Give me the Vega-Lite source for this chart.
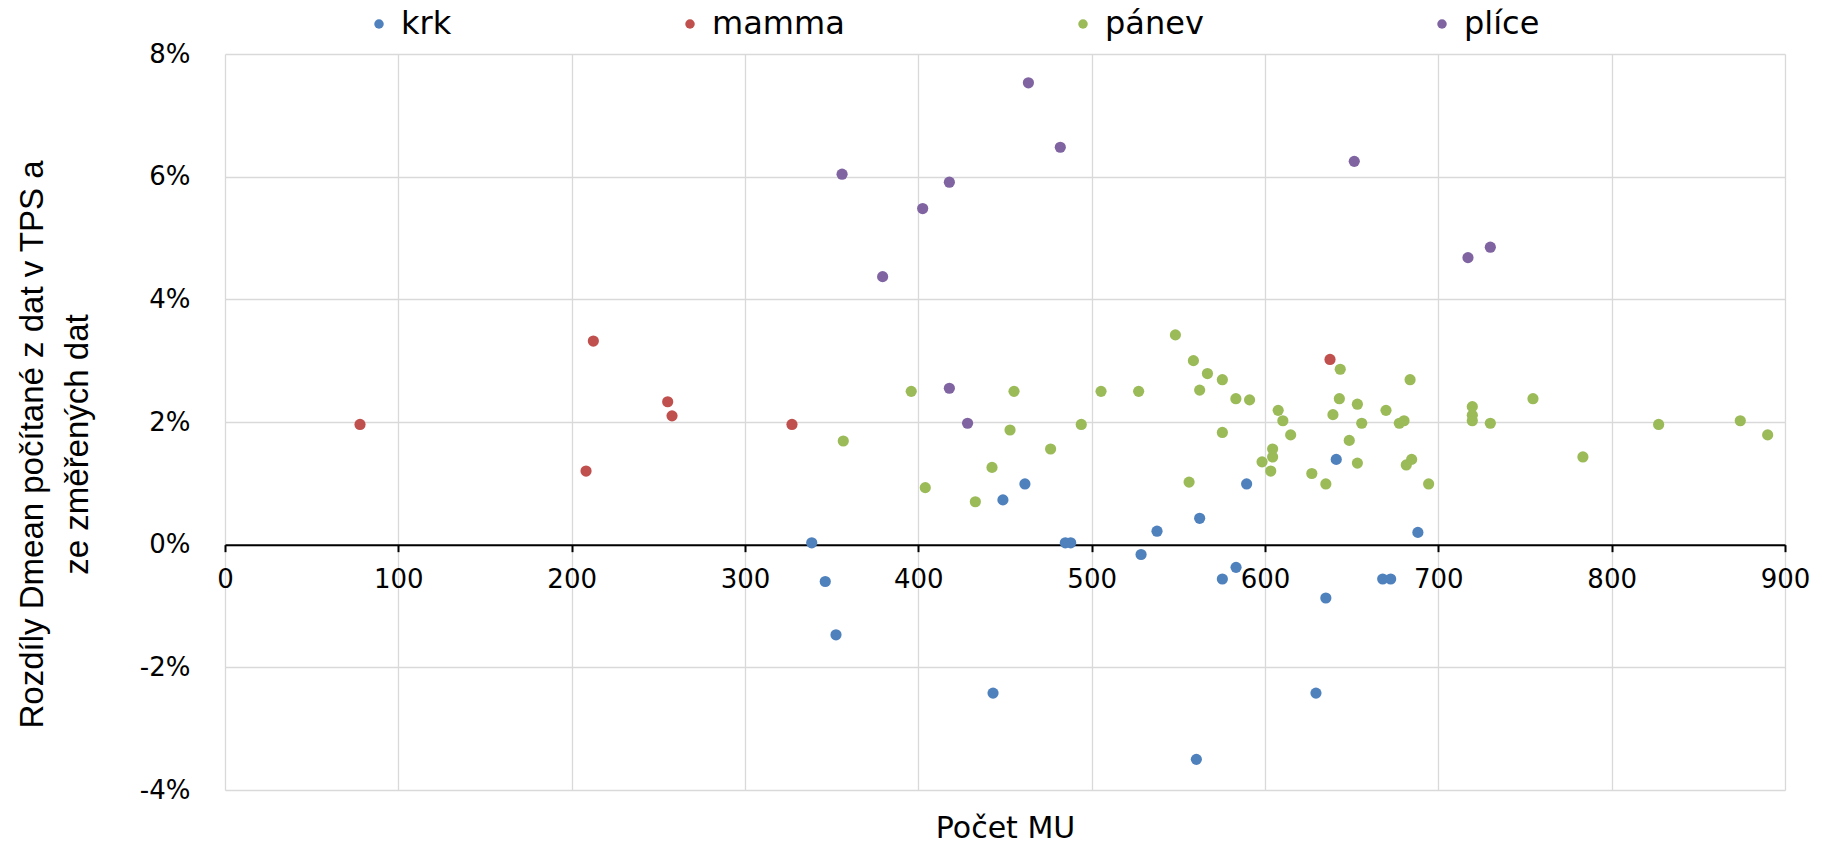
{
  "$schema": "https://vega.github.io/schema/vega-lite/v6.json",
  "width": 1560,
  "height": 736,
  "autosize": "none",
  "padding": {"left": 225, "top": 54, "right": 44, "bottom": 59},
  "background": "white",
  "config": {
    "view": {"stroke": null},
    "axis": {"gridColor": "#d9d9d9", "gridWidth": 1.3}
  },
  "data": {
    "values": [
      {"MU": 338.5, "rozdil": 0.03, "lokalita": "krk"},
      {"MU": 346.3, "rozdil": -0.6, "lokalita": "krk"},
      {"MU": 352.5, "rozdil": -1.47, "lokalita": "krk"},
      {"MU": 443.1, "rozdil": -2.42, "lokalita": "krk"},
      {"MU": 448.8, "rozdil": 0.73, "lokalita": "krk"},
      {"MU": 461.5, "rozdil": 0.99, "lokalita": "krk"},
      {"MU": 484.8, "rozdil": 0.03, "lokalita": "krk"},
      {"MU": 487.9, "rozdil": 0.03, "lokalita": "krk"},
      {"MU": 528.5, "rozdil": -0.16, "lokalita": "krk"},
      {"MU": 537.7, "rozdil": 0.22, "lokalita": "krk"},
      {"MU": 562.3, "rozdil": 0.43, "lokalita": "krk"},
      {"MU": 589.4, "rozdil": 0.99, "lokalita": "krk"},
      {"MU": 583.3, "rozdil": -0.37, "lokalita": "krk"},
      {"MU": 575.4, "rozdil": -0.56, "lokalita": "krk"},
      {"MU": 560.4, "rozdil": -3.5, "lokalita": "krk"},
      {"MU": 641.1, "rozdil": 1.39, "lokalita": "krk"},
      {"MU": 635.1, "rozdil": -0.87, "lokalita": "krk"},
      {"MU": 629.4, "rozdil": -2.42, "lokalita": "krk"},
      {"MU": 667.9, "rozdil": -0.56, "lokalita": "krk"},
      {"MU": 672.5, "rozdil": -0.56, "lokalita": "krk"},
      {"MU": 688.2, "rozdil": 0.2, "lokalita": "krk"},

      {"MU": 77.9, "rozdil": 1.96, "lokalita": "mamma"},
      {"MU": 208.3, "rozdil": 1.2, "lokalita": "mamma"},
      {"MU": 212.5, "rozdil": 3.32, "lokalita": "mamma"},
      {"MU": 255.4, "rozdil": 2.33, "lokalita": "mamma"},
      {"MU": 257.9, "rozdil": 2.1, "lokalita": "mamma"},
      {"MU": 327.1, "rozdil": 1.96, "lokalita": "mamma"},
      {"MU": 637.5, "rozdil": 3.02, "lokalita": "mamma"},

      {"MU": 356.7, "rozdil": 1.69, "lokalita": "pánev"},
      {"MU": 395.9, "rozdil": 2.5, "lokalita": "pánev"},
      {"MU": 404.0, "rozdil": 0.93, "lokalita": "pánev"},
      {"MU": 432.9, "rozdil": 0.7, "lokalita": "pánev"},
      {"MU": 442.5, "rozdil": 1.26, "lokalita": "pánev"},
      {"MU": 452.9, "rozdil": 1.87, "lokalita": "pánev"},
      {"MU": 455.2, "rozdil": 2.5, "lokalita": "pánev"},
      {"MU": 476.3, "rozdil": 1.56, "lokalita": "pánev"},
      {"MU": 494.0, "rozdil": 1.96, "lokalita": "pánev"},
      {"MU": 505.4, "rozdil": 2.5, "lokalita": "pánev"},
      {"MU": 527.1, "rozdil": 2.5, "lokalita": "pánev"},
      {"MU": 548.3, "rozdil": 3.42, "lokalita": "pánev"},
      {"MU": 556.2, "rozdil": 1.02, "lokalita": "pánev"},
      {"MU": 558.7, "rozdil": 3.0, "lokalita": "pánev"},
      {"MU": 562.3, "rozdil": 2.52, "lokalita": "pánev"},
      {"MU": 566.8, "rozdil": 2.79, "lokalita": "pánev"},
      {"MU": 575.4, "rozdil": 2.69, "lokalita": "pánev"},
      {"MU": 575.4, "rozdil": 1.83, "lokalita": "pánev"},
      {"MU": 583.2, "rozdil": 2.38, "lokalita": "pánev"},
      {"MU": 591.1, "rozdil": 2.36, "lokalita": "pánev"},
      {"MU": 598.3, "rozdil": 1.35, "lokalita": "pánev"},
      {"MU": 603.3, "rozdil": 1.2, "lokalita": "pánev"},
      {"MU": 604.4, "rozdil": 1.56, "lokalita": "pánev"},
      {"MU": 604.4, "rozdil": 1.43, "lokalita": "pánev"},
      {"MU": 607.6, "rozdil": 2.19, "lokalita": "pánev"},
      {"MU": 610.3, "rozdil": 2.02, "lokalita": "pánev"},
      {"MU": 614.8, "rozdil": 1.79, "lokalita": "pánev"},
      {"MU": 627.0, "rozdil": 1.16, "lokalita": "pánev"},
      {"MU": 635.1, "rozdil": 0.99, "lokalita": "pánev"},
      {"MU": 639.2, "rozdil": 2.12, "lokalita": "pánev"},
      {"MU": 642.9, "rozdil": 2.38, "lokalita": "pánev"},
      {"MU": 643.4, "rozdil": 2.86, "lokalita": "pánev"},
      {"MU": 648.6, "rozdil": 1.7, "lokalita": "pánev"},
      {"MU": 653.3, "rozdil": 2.29, "lokalita": "pánev"},
      {"MU": 653.3, "rozdil": 1.33, "lokalita": "pánev"},
      {"MU": 655.8, "rozdil": 1.98, "lokalita": "pánev"},
      {"MU": 669.8, "rozdil": 2.19, "lokalita": "pánev"},
      {"MU": 677.5, "rozdil": 1.98, "lokalita": "pánev"},
      {"MU": 680.2, "rozdil": 2.02, "lokalita": "pánev"},
      {"MU": 681.5, "rozdil": 1.3, "lokalita": "pánev"},
      {"MU": 683.7, "rozdil": 2.69, "lokalita": "pánev"},
      {"MU": 684.6, "rozdil": 1.39, "lokalita": "pánev"},
      {"MU": 694.4, "rozdil": 0.99, "lokalita": "pánev"},
      {"MU": 719.6, "rozdil": 2.25, "lokalita": "pánev"},
      {"MU": 719.6, "rozdil": 2.11, "lokalita": "pánev"},
      {"MU": 719.6, "rozdil": 2.02, "lokalita": "pánev"},
      {"MU": 730.0, "rozdil": 1.98, "lokalita": "pánev"},
      {"MU": 754.6, "rozdil": 2.38, "lokalita": "pánev"},
      {"MU": 783.4, "rozdil": 1.43, "lokalita": "pánev"},
      {"MU": 827.1, "rozdil": 1.96, "lokalita": "pánev"},
      {"MU": 874.2, "rozdil": 2.02, "lokalita": "pánev"},
      {"MU": 890.0, "rozdil": 1.79, "lokalita": "pánev"},

      {"MU": 356.0, "rozdil": 6.04, "lokalita": "plíce"},
      {"MU": 379.4, "rozdil": 4.37, "lokalita": "plíce"},
      {"MU": 402.5, "rozdil": 5.48, "lokalita": "plíce"},
      {"MU": 417.9, "rozdil": 5.91, "lokalita": "plíce"},
      {"MU": 417.9, "rozdil": 2.55, "lokalita": "plíce"},
      {"MU": 428.4, "rozdil": 1.98, "lokalita": "plíce"},
      {"MU": 463.5, "rozdil": 7.53, "lokalita": "plíce"},
      {"MU": 481.9, "rozdil": 6.48, "lokalita": "plíce"},
      {"MU": 651.5, "rozdil": 6.25, "lokalita": "plíce"},
      {"MU": 717.1, "rozdil": 4.68, "lokalita": "plíce"},
      {"MU": 730.0, "rozdil": 4.85, "lokalita": "plíce"}
    ]
  },
  "mark": {"type": "circle", "size": 125, "opacity": 1},
  "encoding": {
    "x": {
      "field": "MU",
      "type": "quantitative",
      "scale": {"domain": [0, 900], "nice": false, "zero": false},
      "axis": {
        "values": [0, 100, 200, 300, 400, 500, 600, 700, 800, 900],
        "offset": {"expr": "scale('y', 0) - height"},
        "grid": true,
        "domain": true,
        "domainColor": "#000000",
        "domainWidth": 2,
        "ticks": true,
        "tickColor": "#000000",
        "tickWidth": 2,
        "tickSize": 7,
        "labelFont": "DejaVu Sans",
        "labelFontSize": 26,
        "labelColor": "#000000",
        "labelPadding": 15,
        "labelFlush": false,
        "labelOverlap": false,
        "title": "Počet MU",
        "titleFont": "DejaVu Sans",
        "titleFontSize": 30,
        "titleFontWeight": "normal",
        "titleColor": "#000000",
        "titleBaseline": "alphabetic",
        "titleY": 293
      }
    },
    "y": {
      "field": "rozdil",
      "type": "quantitative",
      "scale": {"domain": [-4, 8], "nice": false, "zero": false},
      "axis": {
        "values": [-4, -2, 0, 2, 4, 6, 8],
        "labelExpr": "datum.value + '%'",
        "grid": true,
        "domain": false,
        "ticks": false,
        "tickSize": 0,
        "labelFont": "DejaVu Sans",
        "labelFontSize": 26,
        "labelColor": "#000000",
        "labelPadding": 35,
        "labelOverlap": false,
        "title": ["Rozdíly Dmean počítané z dat v TPS a", "ze změřených dat"],
        "titleFont": "Liberation Sans",
        "titleFontSize": 33,
        "titleFontWeight": "normal",
        "titleColor": "#000000",
        "titleLineHeight": 45,
        "titleY": 390,
        "titlePadding": 45
      }
    },
    "color": {
      "field": "lokalita",
      "type": "nominal",
      "scale": {
        "domain": ["krk", "mamma", "pánev", "plíce"],
        "range": ["#4F81BD", "#C0504D", "#9BBB59", "#8064A2"]
      },
      "legend": {
        "title": null,
        "orient": "none",
        "direction": "horizontal",
        "columns": 4,
        "legendX": 138,
        "legendY": -46,
        "symbolType": "circle",
        "symbolSize": 90,
        "symbolStrokeWidth": 0,
        "labelFont": "DejaVu Sans",
        "labelFontSize": 32,
        "labelColor": "#000000",
        "labelOffset": 6,
        "columnPadding": 222,
        "labelLimit": 400
      }
    }
  }
}
